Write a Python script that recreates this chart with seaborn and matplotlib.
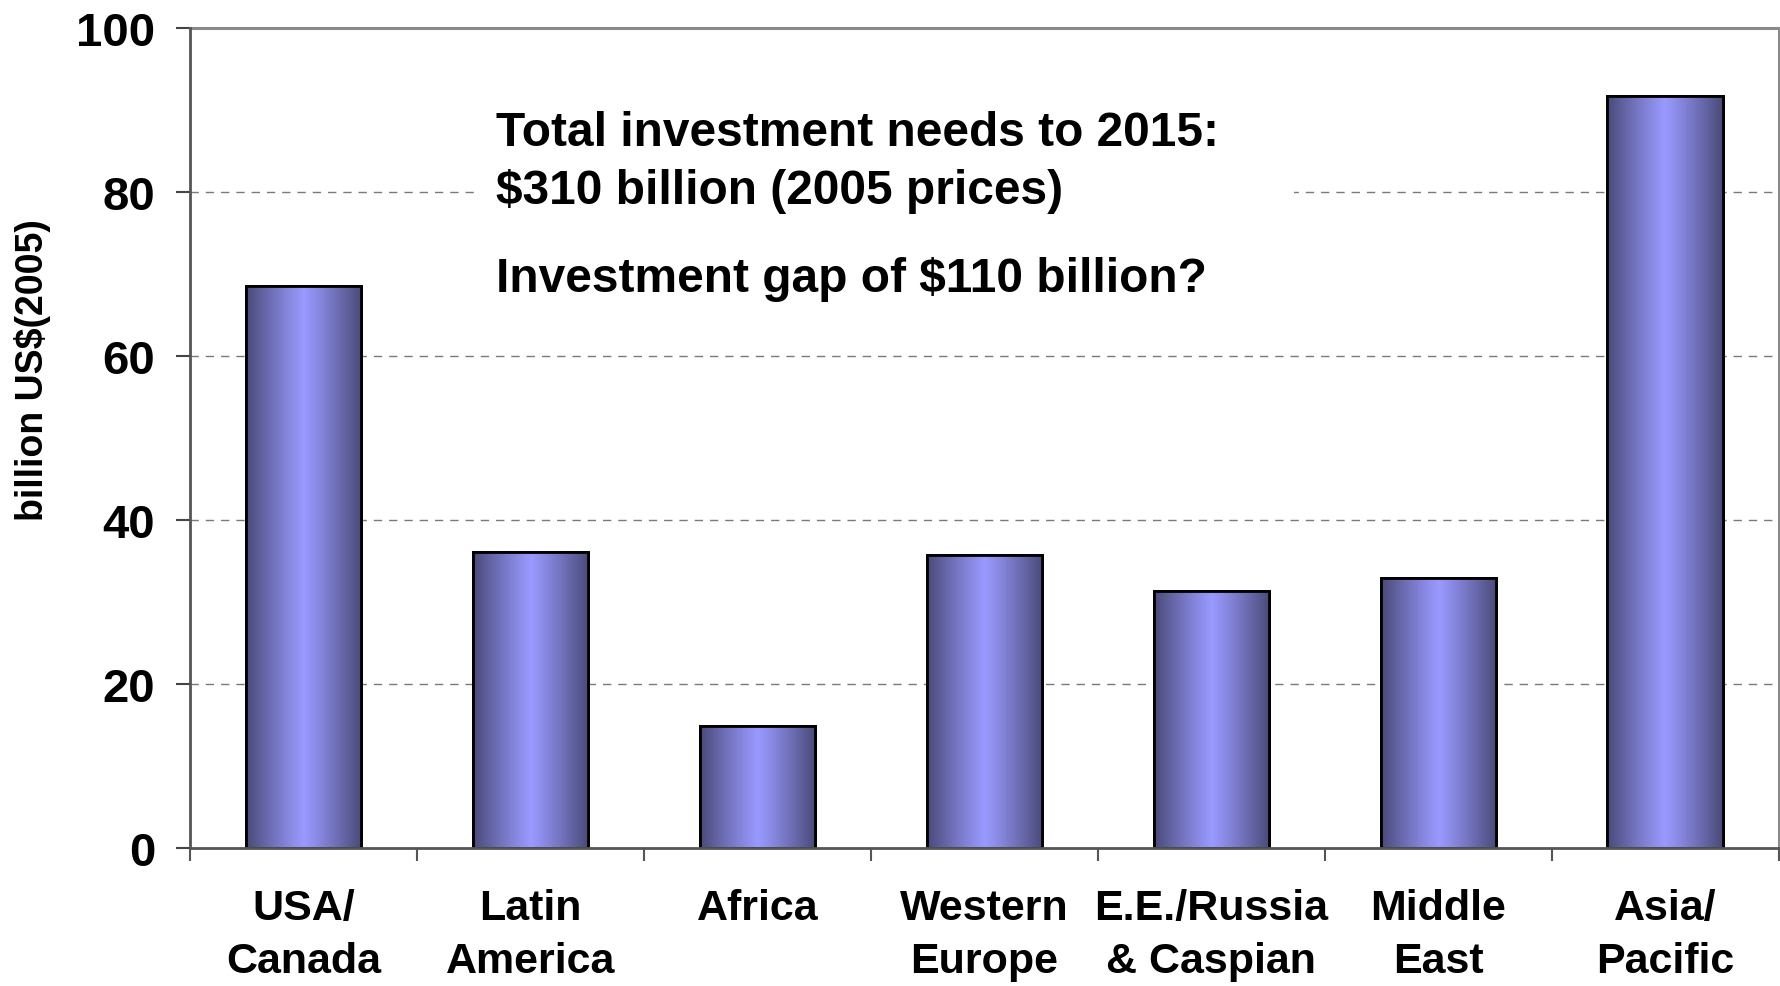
import numpy as np
import pandas as pd
import seaborn as sns
import matplotlib.pyplot as plt
from matplotlib.patches import Rectangle
from matplotlib.colors import to_rgb

# Data
regions = ["USA/\nCanada", "Latin\nAmerica", "Africa", "Western\nEurope",
           "E.E./Russia\n& Caspian", "Middle\nEast", "Asia/\nPacific"]
investment = [68.5, 36.1, 14.9, 35.7, 31.4, 32.9, 91.7]
y_ticks = [0, 20, 40, 60, 80, 100]
note_lines = ["Total investment needs to 2015:", "$310 billion (2005 prices)"]
note_gap = "Investment gap of $110 billion?"

sns.set_style("white")
plt.rcParams['font.family'] = ['Liberation Sans', 'DejaVu Sans']
plt.rcParams['font.weight'] = 'bold'
plt.rcParams['text.color'] = 'black'
plt.rcParams['axes.labelcolor'] = 'black'
plt.rcParams['xtick.color'] = 'black'
plt.rcParams['ytick.color'] = 'black'

df = pd.DataFrame({"region": regions, "value": investment})

fig = plt.figure(figsize=(17.81, 9.87), dpi=100)
ax = fig.add_axes([0.1067, 0.1398, 0.8921, 0.8308])

sns.barplot(data=df, x="region", y="value", color="#8c8cee", width=0.51,
            edgecolor="black", linewidth=2.0, saturation=1, ax=ax, zorder=3)

# horizontal gradient: dark edges, light centre
edge_c = np.array(to_rgb("#4a4a78"))
mid_c = np.array(to_rgb("#9999ff"))
t = np.abs(np.linspace(-1, 1, 256)) ** 1.1
grad = (mid_c[None, :] * (1 - t[:, None]) + edge_c[None, :] * t[:, None])[None, :, :]
for bar in ax.patches:
    x0, y0 = bar.get_x(), bar.get_y()
    w, h = bar.get_width(), bar.get_height()
    im = ax.imshow(grad, extent=[x0, x0 + w, y0, y0 + h], aspect="auto",
                   zorder=3.5, interpolation="bilinear")
    im.set_clip_path(bar)
    outline = Rectangle((x0, y0), w, h, fill=False, edgecolor="black",
                        linewidth=2.0, zorder=4)
    ax.add_patch(outline)

ax.set_xlim(-0.5, len(regions) - 0.5)
ax.set_ylim(0, 100)
ax.set_yticks(y_ticks)
ax.set_yticklabels([str(v) for v in y_ticks], fontsize=34, fontweight="bold")
ax.set_xticks(range(len(regions)))
ax.set_xticklabels(regions, fontsize=31, fontweight="bold", linespacing=1.42)
ax.set_xticks(np.arange(-0.5, len(regions), 1), minor=True)
ax.tick_params(axis="x", which="major", length=0, pad=29)
ax.tick_params(axis="x", which="minor", length=9, width=1.5, color="#555555",
               direction="out", bottom=True)
ax.tick_params(axis="y", which="major", length=10, width=1.5, color="#444444",
               direction="out", left=True, pad=15)

# dashed gridlines
for v in y_ticks[1:-1]:
    ax.axhline(v, color="#7a7a7a", linewidth=1.0, dashes=(6, 5), zorder=1)

for side in ["top", "right"]:
    ax.spines[side].set_color("#8a8a8a")
    ax.spines[side].set_linewidth(2.2)
for side in ["left", "bottom"]:
    ax.spines[side].set_color("#555555")
    ax.spines[side].set_linewidth(2.0)
    ax.spines[side].set_zorder(5)

ax.set_xlabel("")
ax.set_ylabel("billion US$(2005)", fontsize=27, fontweight="bold")
ax.yaxis.set_label_coords(-0.0877, 0.584)

# white box behind the note, hiding the gridline
ax.add_patch(Rectangle((0.1805, 0.66), 0.5145, 0.26, transform=ax.transAxes,
                       facecolor="white", edgecolor="none", zorder=2))
ax.text(0.1925, 0.872, note_lines[0], transform=ax.transAxes, fontsize=34.5,
        fontweight="bold", va="center", ha="left", zorder=6)
ax.text(0.1925, 0.802, note_lines[1], transform=ax.transAxes, fontsize=34.5,
        fontweight="bold", va="center", ha="left", zorder=6)
ax.text(0.1925, 0.695, note_gap, transform=ax.transAxes, fontsize=34.5,
        fontweight="bold", va="center", ha="left", zorder=6)

fig.savefig("out.png", dpi=100)
